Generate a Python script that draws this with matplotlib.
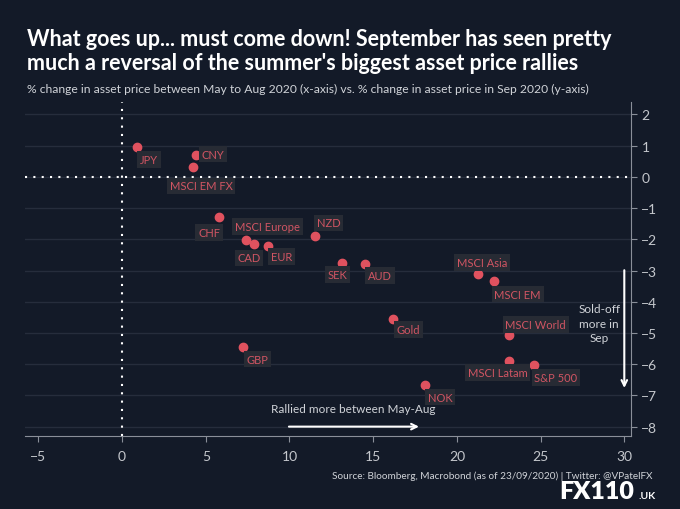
import matplotlib.pyplot as plt

# asset price changes: May-Aug 2020 (x) vs Sep 2020 (y), in %
assets = ["JPY", "CNY", "MSCI EM FX", "CHF", "CAD", "MSCI Europe", "EUR", "NZD",
          "SEK", "AUD", "MSCI Asia", "MSCI EM", "Gold", "MSCI World", "MSCI Latam",
          "S&P 500", "GBP", "NOK"]
may_aug = [0.9, 4.4, 4.25, 5.8, 7.4, 7.9, 8.7, 11.5,
           13.15, 14.5, 21.25, 22.2, 16.2, 23.1, 23.1,
           24.6, 7.25, 18.1]
sep = [0.95, 0.7, 0.32, -1.3, -2.02, -2.16, -2.2, -1.89,
       -2.75, -2.78, -3.12, -3.34, -4.54, -5.05, -5.89,
       -6.04, -5.45, -6.67]
# label offsets in pixels (dx, dy) from each point
offsets = [(12, -12), (17, 1), (8, -19), (-10, -15), (3, -18), (13, 18), (14, -11), (14, 13),
           (-5, -12), (15, -12), (4, 12), (24, -13), (15, -11), (27, 10), (-11, -12),
           (22, -12), (14, -12), (15, -12)]

bg = "#131a28"
fg = "#d0d3d8"
red = "#e0525f"

plt.rcParams["font.family"] = ["Lato", "DejaVu Sans"]

fig = plt.figure(figsize=(6.8, 5.1), dpi=100, facecolor=bg)
ax = fig.add_axes([25 / 680, 1 - 437 / 510, 606 / 680, 334 / 510], facecolor=bg)

ax.set_xlim(-5.8, 30.4)
ax.set_ylim(-8.3, 2.4)
ax.set_xticks(range(-5, 31, 5))
ax.set_yticks(range(-8, 3))

ax.yaxis.tick_right()
ax.grid(axis="y", color="#262d3c", linewidth=1)
ax.set_axisbelow(True)
for s in ["top", "left"]:
    ax.spines[s].set_visible(False)
for s in ["bottom", "right"]:
    ax.spines[s].set_color("#8a8f99")
ax.tick_params(colors="#8a8f99", labelcolor="#c4c7cc", labelsize=10, length=4)
ax.tick_params(axis="x", pad=6)

ax.axvline(0, color="white", linestyle=(0, (1, 3)), linewidth=1.5)
ax.axhline(0, color="white", linestyle=(0, (1, 3)), linewidth=1.5)

ax.scatter(may_aug, sep, s=36, color=red, zorder=3)
for name, x, y, (dx, dy) in zip(assets, may_aug, sep, offsets):
    ax.annotate(name, (x, y), xytext=(dx, dy), textcoords="offset pixels",
                ha="center", va="center", fontsize=8, color="#d05563",
                bbox=dict(boxstyle="square,pad=0.25", fc="#272b34", ec="none"))

# direction arrows
ax.annotate("", xy=(17.9, -8.0), xytext=(9.8, -8.0),
            arrowprops=dict(arrowstyle="->", color="white", lw=1.5))
ax.text(13.8, -7.43, "Rallied more between May-Aug", color=fg, fontsize=8.5,
        ha="center", va="center")
ax.annotate("", xy=(30.0, -6.85), xytext=(30.0, -2.9),
            arrowprops=dict(arrowstyle="->", color="white", lw=1.5))
ax.text(28.5, -4.68, "Sold-off\nmore in\nSep", color=fg, fontsize=8.5,
        ha="center", va="center", linespacing=1.35)

fig.text(27 / 680, 1 - 46 / 510, "What goes up... must come down! September has seen pretty",
         color="white", fontsize=15.5, fontweight="bold", va="baseline")
fig.text(27 / 680, 1 - 70 / 510, "much a reversal of the summer's biggest asset price rallies",
         color="white", fontsize=15.5, fontweight="bold", va="baseline")
fig.text(27 / 680, 1 - 93 / 510,
         "% change in asset price between May to Aug 2020 (x-axis) vs. % change in asset price in Sep 2020 (y-axis)",
         color=fg, fontsize=8.7, va="baseline")
fig.text(653 / 680, 1 - 476 / 510, "Source: Bloomberg, Macrobond (as of 23/09/2020) | Twitter: @VPatelFX",
         color=fg, fontsize=7.2, ha="right", va="center")
fig.text(559 / 680, 1 - 499 / 510, "FX110", color="white", fontsize=18, fontweight="heavy",
         va="baseline", ha="left")
fig.text(639 / 680, 1 - 499 / 510, ".UK", color="white", fontsize=7.5, fontweight="bold",
         va="baseline", ha="left")

fig.savefig("out.png", dpi=100, facecolor=bg)
